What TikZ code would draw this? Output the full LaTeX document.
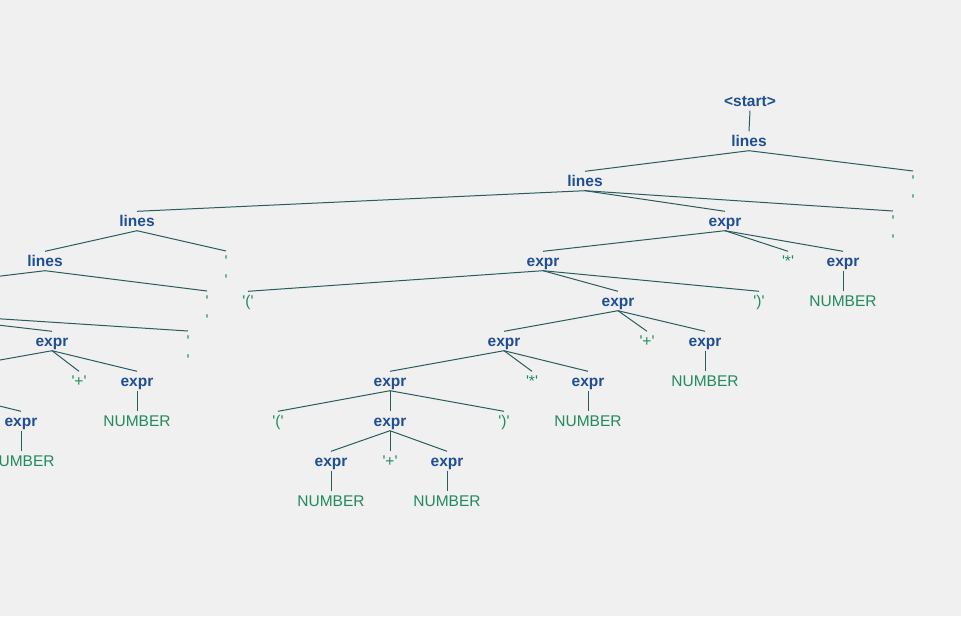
\documentclass[tikz,border=0pt]{standalone}
\usepackage{fontspec}
\setmainfont{Liberation Sans}
\definecolor{bg}{HTML}{F0F0F0}
\definecolor{branchclr}{HTML}{2A5C5C}
\definecolor{ntclr}{HTML}{1F4E94}
\definecolor{tclr}{HTML}{228B5C}
\newcommand\sq{\textquotesingle}
\newcommand\treefont{\fontsize{15.5}{19}\selectfont}

\begin{document}
\begin{tikzpicture}[x=1pt,y=-1pt,
  lbl/.style={inner xsep=0pt, inner ysep=2pt, text height=12.5pt, text depth=2.5pt,
              anchor=base, font=\treefont},
  nt/.style={lbl, text=ntclr, font=\treefont\bfseries},
  tm/.style={lbl, text=tclr},
  nl/.style={text=tclr, font=\treefont, inner xsep=0pt, inner ysep=4.5pt,
             anchor=north, align=center},
  branch/.style={draw=branchclr, line width=1pt}]

\useasboundingbox (0,0) rectangle (961,616);
\fill[bg] (0,0) rectangle (961,616);
\clip (0,0) rectangle (961,616);

% ---- nodes (x, baseline) ----
\node[nt] (start) at (750,106) {<start>};
\node[nt] (L1) at (749,146) {lines};
\node[nt] (L2) at (585,186) {lines};
\node[nl] (NL1) at (913,171) {\sq\\\sq};
\node[nt] (L3) at (137,226) {lines};
\node[nt] (E1) at (725,226) {expr};
\node[nl] (NL2) at (893,211) {\sq\\\sq};
\node[nt] (L4) at (45,266) {lines};
\node[nl] (NL3) at (226,251) {\sq\\\sq};
\node[nt] (L5) at (-126,306) {lines};
\node[nl] (NL4) at (207,291) {\sq\\\sq};
\node[nt] (E2) at (52,346) {expr};
\node[nl] (NL5) at (188,331) {\sq\\\sq};
\node[nt] (E3) at (-63,386) {expr};
\node[tm] (P1) at (79,386) {\sq+\sq};
\node[nt] (E4) at (137,386) {expr};
\node[tm] (N1) at (137,426) {NUMBER};
\node[nt] (E5) at (21,426) {expr};
\node[tm] (N2) at (21,466) {NUMBER};

\node[nt] (E6) at (543,266) {expr};
\node[tm] (S1) at (788,266) {\sq*\sq};
\node[nt] (E7) at (843,266) {expr};
\node[tm] (N3) at (843,306) {NUMBER};
\node[tm] (LP1) at (248,306) {\sq(\sq};
\node[nt] (E8) at (618,306) {expr};
\node[tm] (RP1) at (759,306) {\sq)\sq};
\node[nt] (E9) at (504,346) {expr};
\node[tm] (P2) at (647,346) {\sq+\sq};
\node[nt] (E10) at (705,346) {expr};
\node[tm] (N4) at (705,386) {NUMBER};
\node[nt] (E11) at (390,386) {expr};
\node[tm] (S2) at (532,386) {\sq*\sq};
\node[nt] (E12) at (588,386) {expr};
\node[tm] (N5) at (588,426) {NUMBER};
\node[tm] (LP2) at (278,426) {\sq(\sq};
\node[nt] (E13) at (390,426) {expr};
\node[tm] (RP2) at (504,426) {\sq)\sq};
\node[nt] (E14) at (331,466) {expr};
\node[tm] (P3) at (390,466) {\sq+\sq};
\node[nt] (E15) at (447,466) {expr};
\node[tm] (N6) at (331,506) {NUMBER};
\node[tm] (N7) at (447,506) {NUMBER};

% ---- branches ----
\foreach \p/\c in {start/L1, L1/L2, L1/NL1, L2/L3, L2/E1, L2/NL2,
                   L3/L4, L3/NL3, L4/L5, L4/NL4, L5/E2, L5/NL5,
                   E2/E3, E2/P1, E2/E4, E4/N1, E3/E5, E5/N2,
                   E1/E6, E1/S1, E1/E7, E7/N3,
                   E6/LP1, E6/E8, E6/RP1,
                   E8/E9, E8/P2, E8/E10, E10/N4,
                   E9/E11, E9/S2, E9/E12, E12/N5,
                   E11/LP2, E11/E13, E11/RP2,
                   E13/E14, E13/P3, E13/E15, E14/N6, E15/N7}
  \draw[branch] (\p.south) -- (\c.north);
\end{tikzpicture}
\end{document}
